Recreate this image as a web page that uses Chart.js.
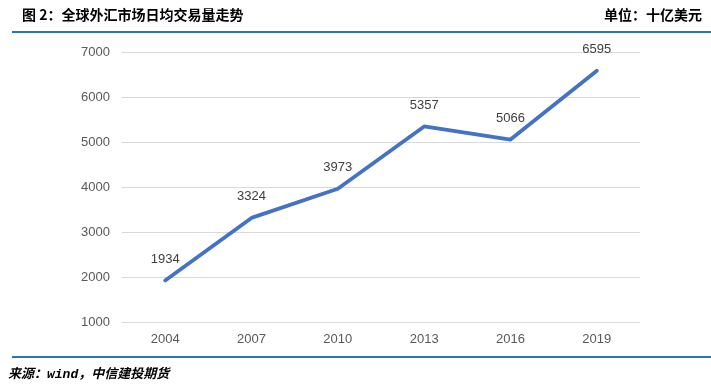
<!DOCTYPE html>
<html>
<head>
<meta charset="utf-8">
<script src="https://cdn.jsdelivr.net/npm/chart.js@4/dist/chart.umd.min.js"></script>
<style>
    body { margin: 0; background: #fff; }
    #wrap { position: relative; width: 711px; height: 384px; overflow: hidden; }
    #chart { position: absolute; left: 0; top: 0; }
    .title { position: absolute; top: 5px; font: bold 14px "Noto Sans CJK SC", sans-serif; color: #000; line-height: 18px; }
    .rule { position: absolute; left: 12px; right: 0; height: 2px; background: #2e74b5; }
    .source { position: absolute; left: 8px; top: 364px; font: italic bold 13px "Noto Sans CJK SC", sans-serif; color: #000; line-height: 18px; }
    .source .w { font-family: "Liberation Mono", monospace; }
</style>
</head>
<body>
<div id="wrap">
    <canvas id="chart" width="711" height="384"></canvas>
    <div class="title" style="left:22px;">图 2：全球外汇市场日均交易量走势</div>
    <div class="title" style="right:9px;">单位：十亿美元</div>
    <div class="rule" style="top:31px;"></div>
    <div class="rule" style="top:356px;"></div>
    <div class="source">来源：<span class="w">wind</span>，中信建投期货</div>
</div>
<script>
// data
var years = ['2004', '2007', '2010', '2013', '2016', '2019'];
var volume = [1934, 3324, 3973, 5357, 5066, 6595];
var yTicks = [1000, 2000, 3000, 4000, 5000, 6000, 7000];

// draw the value above each point
var pointLabels = {
    id: 'pointLabels',
    afterDatasetsDraw: function (chart) {
        var ctx = chart.ctx;
        var meta = chart.getDatasetMeta(0);
        ctx.save();
        ctx.font = '13px "Liberation Sans", sans-serif';
        ctx.fillStyle = '#404040';
        ctx.textAlign = 'center';
        ctx.textBaseline = 'middle';
        meta.data.forEach(function (pt, i) {
            ctx.fillText(String(volume[i]), pt.x, pt.y - 21);
        });
        ctx.restore();
    }
};

var ctx = document.getElementById('chart').getContext('2d');
var lineChart = new Chart(ctx, {
    type: 'line',
    data: {
        labels: years,
        datasets: [
            {
                data: volume,
                borderColor: '#4472c4',
                borderWidth: 3.8,
                borderCapStyle: 'round',
                borderJoinStyle: 'round',
                pointRadius: 0,
                tension: 0,
                fill: false,
            },
        ],
    },
    options: {
        responsive: false,
        animation: false,
        layout: {
            padding: { left: 0, right: 71, top: 52.5, bottom: 31.5 },
        },
        plugins: {
            legend: { display: false },
            tooltip: { enabled: false },
        },
        scales: {
            x: {
                offset: true,
                grid: { display: false, drawTicks: false },
                border: { display: false },
                ticks: {
                    color: '#595959',
                    font: { family: 'Liberation Sans', size: 13 },
                    padding: 9,
                    maxRotation: 0,
                },
                afterFit: function (scale) { scale.height = 30; },
            },
            y: {
                min: 1000,
                max: 7000,
                grid: { color: '#d9d9d9', lineWidth: 1, drawTicks: false },
                border: { display: false },
                afterBuildTicks: function (scale) {
                    scale.ticks = yTicks.map(function (v) { return { value: v }; });
                },
                ticks: {
                    color: '#595959',
                    font: { family: 'Liberation Sans', size: 13 },
                    padding: 12,
                    callback: function (value) { return String(value); },
                },
                afterFit: function (scale) { scale.width = 122; },
            },
        },
    },
    plugins: [pointLabels],
});
</script>
</body>
</html>
